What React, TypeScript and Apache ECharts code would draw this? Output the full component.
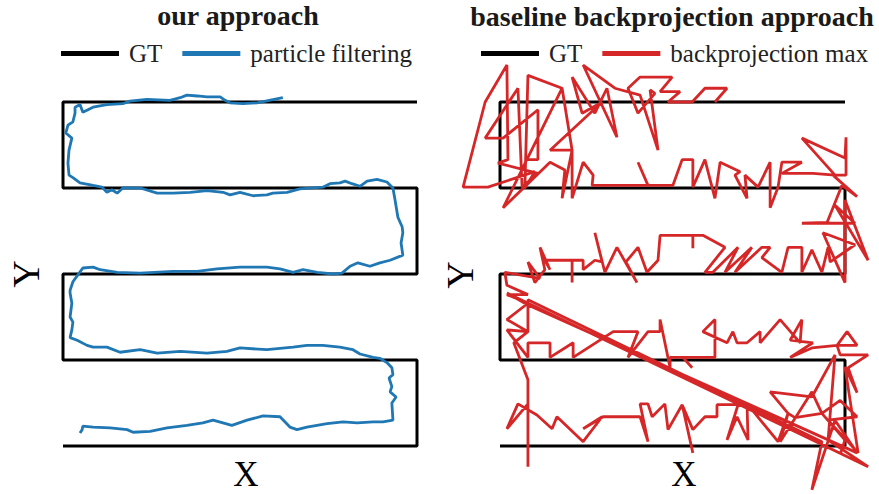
import React, { useEffect, useRef } from "react";
import * as echarts from "echarts";

const FONT = '"Liberation Serif", "Times New Roman", serif';

const panelTitles = ["our approach", "baseline backprojection approach"];
const leftLegend = ["GT", "particle filtering"];
const rightLegend = ["GT", "backprojection max"];
const axisNames = { x: "X", y: "Y" };

// ground-truth serpentine (X: 0..10, Y: 0..4)
const gtPath: number[][] = [
  [10, 4], [0, 4], [0, 3], [10, 3], [10, 2], [0, 2], [0, 1], [10, 1], [10, 0], [0, 0],
];

const particleFiltering: number[][] = [
  [6.21, 4.05], [5.48, 3.99], [5.08, 3.98], [4.72, 3.99], [4.58, 4.02], [4.44, 4.06], [4.07, 4.06],
  [3.79, 4.07], [3.5, 4.08], [3.31, 4.05], [3.02, 4.02], [2.37, 4.03], [1.89, 4.01], [1.69, 3.98],
  [1.24, 3.97], [0.85, 3.94], [0.56, 3.88], [0.48, 3.97], [0.34, 3.94], [0.34, 3.87], [0.28, 3.77],
  [0.14, 3.73], [0.08, 3.64], [0.25, 3.58], [0.17, 3.44], [0.14, 3.29], [0.17, 3.15], [0.28, 3.12],
  [0.48, 3.06], [0.85, 3.03], [1.1, 3.01], [1.24, 2.95], [1.38, 2.98], [1.53, 2.94], [1.69, 3.0],
  [2.18, 3.0], [2.66, 2.94], [3.11, 2.94], [3.59, 2.95], [4.07, 2.97], [4.52, 2.95], [4.72, 2.92],
  [5.0, 2.95], [5.37, 2.91], [5.76, 2.92], [5.93, 2.94], [6.33, 2.95], [6.69, 2.99], [7.34, 3.01],
  [7.54, 3.05], [7.82, 3.06], [7.97, 3.08], [8.16, 3.05], [8.39, 3.02], [8.59, 3.08], [8.87, 3.1],
  [9.15, 3.07], [9.32, 3.0], [9.38, 2.86], [9.46, 2.66], [9.58, 2.55], [9.6, 2.48], [9.55, 2.36],
  [9.6, 2.22], [9.24, 2.16], [8.95, 2.13], [8.67, 2.09], [8.33, 2.13], [8.11, 2.09], [7.88, 2.01],
  [7.63, 2.0], [7.18, 2.02], [6.78, 2.05], [6.5, 2.02], [6.13, 2.06], [5.76, 2.08], [5.0, 2.08],
  [4.35, 2.06], [3.79, 2.03], [3.11, 2.03], [2.18, 2.01], [1.53, 2.02], [1.05, 2.05], [0.85, 2.08],
  [0.56, 2.07], [0.42, 1.99], [0.28, 1.91], [0.2, 1.81], [0.2, 1.78], [0.25, 1.66], [0.2, 1.5],
  [0.28, 1.44], [0.25, 1.35], [0.2, 1.26], [0.4, 1.23], [0.68, 1.17], [0.85, 1.15], [1.24, 1.15],
  [1.61, 1.09], [2.18, 1.12], [2.66, 1.08], [3.31, 1.1], [4.07, 1.08], [4.63, 1.1], [5.0, 1.14],
  [5.76, 1.12], [6.5, 1.15], [6.89, 1.17], [7.34, 1.17], [7.82, 1.15], [8.19, 1.12], [8.39, 1.07],
  [8.76, 1.03], [8.95, 1.02], [9.15, 0.97], [9.29, 0.91], [9.32, 0.83], [9.21, 0.79], [9.29, 0.69],
  [9.24, 0.63], [9.41, 0.57], [9.29, 0.5], [9.32, 0.3], [9.04, 0.28], [8.76, 0.28], [8.31, 0.27],
  [7.91, 0.28], [7.46, 0.26], [6.89, 0.22], [6.61, 0.19], [6.41, 0.22], [6.13, 0.34], [5.65, 0.35],
  [5.2, 0.3], [4.77, 0.24], [4.24, 0.3], [3.95, 0.27], [3.5, 0.24], [2.94, 0.21], [2.46, 0.17],
  [1.98, 0.16], [1.81, 0.19], [1.33, 0.21], [0.85, 0.22], [0.56, 0.23], [0.54, 0.19], [0.48, 0.15],
];

const backprojectionMax: number[][] = [
  [6.23, 4.0], [6.58, 4.16], [5.94, 4.16], [5.57, 4.0], [4.87, 4.0], [5.22, 4.12], [4.64, 4.12],
  [4.99, 4.29], [4.06, 4.29], [3.71, 4.16], [4.0, 3.87], [4.49, 4.1], [4.35, 4.14], [4.58, 3.44],
  [4.06, 4.08], [3.33, 4.16], [2.41, 4.43], [3.39, 3.59], [3.1, 4.16], [2.75, 3.87], [2.09, 4.29],
  [2.38, 3.87], [2.96, 4.0], [1.45, 3.44], [2.09, 3.44], [1.8, 4.16], [0.81, 4.31], [0.72, 3.0],
  [1.01, 3.19], [-0.35, 3.01], [-1.07, 3.01], [-0.43, 4.0], [0.2, 4.43], [0.23, 3.33], [-0.06, 3.29],
  [1.1, 3.17], [0.64, 3.01], [0.52, 4.16], [-0.43, 3.58], [0.09, 3.58], [1.1, 3.91], [1.1, 3.33],
  [0.78, 3.33], [1.8, 4.16], [0.09, 2.77], [1.45, 3.3], [1.88, 3.21], [1.8, 2.88], [2.09, 3.44],
  [2.09, 2.88], [2.41, 3.3], [2.7, 3.15], [2.67, 3.03], [4.29, 3.03], [4.0, 3.3], [4.29, 3.03],
  [5.01, 3.03], [5.28, 3.33], [5.59, 3.33], [5.59, 3.01], [5.94, 3.33], [6.23, 2.88], [6.38, 3.3],
  [6.96, 3.19], [6.81, 3.15], [7.16, 2.88], [7.1, 3.15], [7.48, 3.01], [7.83, 3.3], [7.83, 2.77],
  [8.06, 3.01], [8.17, 3.3], [8.75, 3.3], [8.17, 3.17], [9.07, 3.17], [9.71, 3.15], [8.75, 3.58],
  [10.0, 3.35], [10.03, 3.59], [10.03, 3.15], [9.65, 3.15], [10.35, 2.9], [9.91, 3.03], [9.48, 2.6],
  [8.75, 2.59], [10.29, 2.59], [9.71, 2.8], [10.67, 2.16], [10.0, 2.86], [10.0, 1.9], [9.36, 2.48],
  [10.29, 2.34], [9.57, 2.14], [9.51, 2.31], [9.33, 2.02], [9.04, 2.28], [8.75, 2.02], [8.75, 2.31],
  [8.35, 2.31], [8.17, 2.02], [7.59, 2.19], [7.83, 2.31], [7.59, 2.31], [6.81, 2.02], [7.3, 2.31],
  [6.52, 2.02], [6.9, 2.31], [6.17, 2.02], [5.94, 2.02], [6.52, 2.31], [5.88, 2.45], [5.59, 2.45],
  [5.59, 2.3], [5.59, 2.45], [4.64, 2.45], [4.58, 2.16], [4.26, 2.02], [4.0, 2.31], [3.65, 2.14],
  [3.97, 1.9], [3.39, 2.31], [3.04, 2.02], [2.75, 2.48], [2.96, 2.14], [2.75, 2.16], [2.41, 2.05],
  [2.41, 2.16], [2.09, 2.16], [2.09, 1.9], [2.09, 2.16], [1.3, 2.16], [1.45, 2.05], [1.16, 2.31],
  [1.3, 2.05], [1.01, 1.9], [0.81, 2.14], [1.16, 1.95], [0.14, 2.02], [0.2, 1.87], [0.81, 1.76],
  [0.2, 1.76], [0.81, 1.66], [0.2, 1.47], [0.81, 1.33], [0.2, 1.35], [0.81, 1.03], [0.81, 1.2],
  [1.45, 1.2], [1.45, 1.03], [2.12, 1.2], [2.12, 1.03], [3.28, 1.33], [4.0, 1.33], [3.71, 1.03],
  [4.29, 1.33], [4.64, 1.33], [4.64, 1.47], [4.93, 0.91], [4.93, 1.03], [5.3, 1.03], [5.57, 0.91],
  [5.3, 1.03], [6.23, 1.03], [6.23, 1.47], [5.88, 1.33], [6.58, 1.2], [6.75, 1.33], [6.87, 1.2],
  [7.16, 1.2], [7.54, 1.33], [7.54, 1.2], [8.12, 1.47], [8.7, 1.2], [8.75, 1.47], [8.41, 1.23],
  [9.07, 1.2], [8.41, 1.03], [9.04, 1.14], [9.77, 1.17], [10.06, 1.33], [10.35, 1.17], [9.77, 1.17],
  [9.86, 1.06], [10.67, 1.06], [10.09, 0.91], [10.35, 0.62], [10.0, 0.92], [10.38, -0.08], [9.51, 0.3],
  [10.35, 0.34], [9.86, 0.53], [9.33, 0.38], [9.04, 0.63], [8.12, 0.05], [8.35, 0.38], [7.83, 0.63],
  [9.04, 0.57], [9.71, 1.06], [9.51, 0.07], [10.67, -0.24], [0.2, 1.78], [0.81, 1.64], [10.35, -0.08],
  [9.71, 0.3], [9.04, -0.51], [9.33, 0.05], [0.81, 1.7], [0.81, 1.33], [0.4, 1.2], [0.81, 0.77],
  [0.81, -0.24], [0.81, 0.49],
  [0.2, 0.2], [0.52, 0.49], [1.07, 0.36], [1.51, 0.2], [1.65, 0.34], [2.41, 0.05], [2.96, 0.34],
  [2.41, 0.2], [2.99, 0.34], [4.06, 0.34], [4.29, 0.05], [4.06, 0.49], [4.29, 0.49], [4.41, 0.34],
  [4.78, 0.49], [4.87, 0.19], [5.28, 0.48], [5.59, -0.08], [5.28, 0.48], [5.59, 0.19], [5.94, 0.34],
  [6.29, 0.34], [6.29, 0.48], [6.9, 0.48], [6.58, 0.07], [6.87, 0.34], [7.19, 0.07], [7.16, 0.48],
  [7.39, 0.38], [8.06, 0.05], [8.35, 0.38], [8.55, 0.33], [9.33, 0.38], [10.0, 0.07], [9.86, -0.1],
];

const COLORS = { gt: "#000000", pf: "#1f77b4", bp: "#d62728" };

export default function App() {
  const ref = useRef<HTMLDivElement>(null);

  useEffect(() => {
    const chart = echarts.init(ref.current!, undefined, { renderer: "svg" });

    const axisCommon = {
      type: "value" as const,
      axisLine: { show: false },
      axisTick: { show: false },
      axisLabel: { show: false },
      splitLine: { show: false },
    };
    const nameStyle = (text: string, size: number) => ({
      text,
      font: `${size}px ${FONT}`,
      fill: "#000",
      lineHeight: 26,
      textAlign: "center",
      textVerticalAlign: "middle",
    });
    const legendText = {
      fontFamily: FONT,
      fontSize: 25,
      color: "#222",
      padding: [0, 0, 0, 5],
    };
    const legendCommon = {
      top: 36,
      icon: "rect",
      itemWidth: 58,
      itemHeight: 5,
      itemGap: 20,
      textStyle: legendText,
    };
    const titleStyle = {
      fontFamily: FONT, fontSize: 28, fontWeight: "bold", color: "#1a1a1a", lineHeight: 22,
    };

    chart.setOption({
      animation: false,
      backgroundColor: "#ffffff",
      title: [
        { text: panelTitles[0], left: 238, top: 4, padding: 0, textAlign: "center", textStyle: titleStyle },
        { text: panelTitles[1], left: 672, top: 5, padding: 0, textAlign: "center", textStyle: titleStyle },
      ],
      legend: [
        { ...legendCommon, left: 56, data: leftLegend },
        { ...legendCommon, left: 476, data: rightLegend },
      ],
      grid: [
        // left panel: X 0..10, Y 0..4
        { left: 63, top: 102, width: 354, height: 344 },
        // right panel: widened range so that outliers are not clamped
        { left: 448.25, top: 59, width: 429.525, height: 434.3 },
      ],
      xAxis: [
        { ...axisCommon, gridIndex: 0, min: 0, max: 10 },
        { ...axisCommon, gridIndex: 1, min: -1.5, max: 10.95 },
      ],
      yAxis: [
        { ...axisCommon, gridIndex: 0, min: 0, max: 4 },
        { ...axisCommon, gridIndex: 1, min: -0.55, max: 4.5 },
      ],
      graphic: [
        { type: "text", x: 246, y: 474, style: nameStyle(axisNames.x, 35) },
        { type: "text", x: 684, y: 474, style: nameStyle(axisNames.x, 35) },
        { type: "text", x: 26, y: 274, rotation: Math.PI / 2, style: nameStyle(axisNames.y, 38) },
        { type: "text", x: 460, y: 275, rotation: Math.PI / 2, style: nameStyle(axisNames.y, 38) },
      ],
      series: [
        {
          name: "GT", type: "line", xAxisIndex: 0, yAxisIndex: 0, data: gtPath,
          showSymbol: false, clip: false, lineStyle: { color: COLORS.gt, width: 3 }, itemStyle: { color: COLORS.gt }, z: 2,
        },
        {
          name: "particle filtering", type: "line", xAxisIndex: 0, yAxisIndex: 0, data: particleFiltering,
          showSymbol: false, clip: false, lineStyle: { color: COLORS.pf, width: 2.8 }, itemStyle: { color: COLORS.pf }, z: 3,
        },
        {
          name: "GT", type: "line", xAxisIndex: 1, yAxisIndex: 1, data: gtPath,
          showSymbol: false, clip: false, lineStyle: { color: COLORS.gt, width: 3 }, itemStyle: { color: COLORS.gt }, z: 2,
        },
        {
          name: "backprojection max", type: "line", xAxisIndex: 1, yAxisIndex: 1, data: backprojectionMax,
          showSymbol: false, clip: false, lineStyle: { color: COLORS.bp, width: 2.8 }, itemStyle: { color: COLORS.bp }, z: 3,
        },
      ],
    });

    return () => chart.dispose();
  }, []);

  return (
    <div
      ref={ref}
      style={{ position: "fixed", left: 0, top: 0, width: 879, height: 494 }}
    />
  );
}
